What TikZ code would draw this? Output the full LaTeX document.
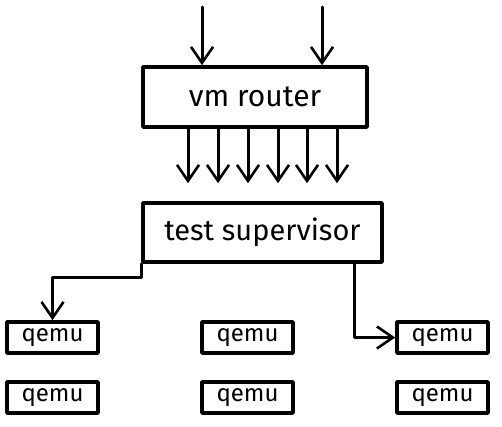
\documentclass[tikz,border=0pt]{standalone}
\usepackage{fontspec}
\setmainfont{Fira Sans}
\usetikzlibrary{calc,positioning,arrows.meta}

\tikzset{
  sketchbox/.style={draw, line width=1.8pt, inner sep=0pt, fill=white},
  arr/.style={line width=1.5pt, -{Straight Barb[length=8pt, width=11pt, line width=1.3pt]}},
}

\begin{document}
\begin{tikzpicture}[x=0.5pt, y=-0.5pt, line cap=round, line join=round]
  \useasboundingbox (0,0) rectangle (502,427);

  % router and supervisor
  \node[sketchbox, minimum width=112pt, minimum height=30pt, font=\fontsize{15}{17}\selectfont]
    (router) at (255,97) {vm router};
  \node[sketchbox, minimum width=119.5pt, minimum height=29.5pt, font=\fontsize{14.5}{17}\selectfont]
    (sup) at (262.5,232.5) {test supervisor};

  % qemu instances
  \foreach \col/\cx in {1/52.5,2/247.5,3/442.5}{
    \foreach \row/\cy in {1/337.5,2/397.5}{
      \node[sketchbox, minimum width=45.5pt, minimum height=15.5pt, font=\fontsize{12}{14}\selectfont]
        (q\row\col) at (\cx,\cy) {qemu};
    }
  }

  % inputs
  \coordinate (in1) at (202,7);
  \coordinate (in2) at (322,7);
  \draw[arr] (in1) -- (in1 |- router.north);
  \draw[arr] (in2) -- (in2 |- router.north);

  % router -> supervisor
  \foreach \x in {188,218,248,278,307,337}{
    \draw[arr, shorten >=9pt] (\x,0 |- router.south) -- (\x,0 |- sup.north);
  }

  % supervisor -> qemu
  \draw[arr] (sup.south west) -- ++(0,14) -| (q11.north);
  \coordinate (tap) at ($(sup.south east)+(-29,0)$);
  \draw[arr] (tap) |- (q13.west);
\end{tikzpicture}
\end{document}
